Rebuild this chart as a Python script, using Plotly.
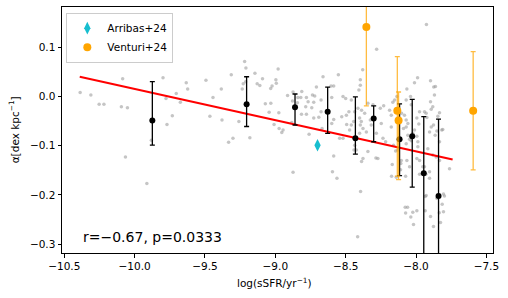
import plotly.graph_objects as go

# Gray sample points: log(sSFR), alpha
gray_x = [-10.387, -10.311, -10.252, -10.218, -10.094, -10.051, -10.085, -10.065, -9.913, -9.881,
          -9.798, -9.779, -9.777, -9.770, -9.732, -9.704, -9.675, -9.633, -9.623, -9.493,
          -9.465, -9.443, -9.384, -9.379, -9.332, -9.301, -9.313, -9.259, -9.235, -9.228,
          -9.218, -9.209, -9.181, -9.145, -9.091, -9.129, -9.110, -8.980, -8.996, -8.993,
          -9.023, -9.033, -9.071, -9.032, -9.044, -8.975, -9.009, -8.973, -8.954, -8.913,
          -8.874, -8.812, -8.878, -8.843, -8.840, -8.819, -8.779, -8.767, -8.784, -8.814,
          -8.779, -8.736, -8.720, -8.727, -8.741, -8.727, -8.691, -8.708, -8.661, -8.675,
          -8.675, -8.585, -8.604, -8.552, -8.599, -8.668, -8.760, -8.883, -8.585, -8.594,
          -8.562, -8.874, -8.394, -8.415, -8.387, -8.441, -8.424, -8.342, -8.285, -8.235,
          -8.282, -8.353, -8.543, -8.519, -8.472, -8.493, -8.528, -8.495, -8.599, -8.585,
          -8.945, -8.160, -8.145, -8.169, -8.174, -8.108, -8.110, -8.077, -8.060, -8.037,
          -8.023, -8.018, -7.994, -8.074, -8.074, -7.975, -7.975, -7.940, -7.930, -7.904,
          -7.935, -7.897, -7.935, -7.876, -7.805, -7.814, -7.798, -7.826, -7.852, -7.835,
          -7.762, -7.881, -7.857, -7.864, -7.833, -7.817, -7.892, -7.876, -7.897, -8.058,
          -8.046, -8.023, -7.987, -7.987, -8.070, -8.379, -8.396, -8.396, -8.406, -8.280,
          -7.926, -7.989, -7.897, -7.874, -8.065, -8.039, -8.136, -8.519, -8.500, -8.460,
          -8.254, -8.230, -8.070, -8.034, -7.975, -7.940, -7.892, -7.833, -7.845, -8.152,
          -8.413, -8.387, -8.477, -8.436, -8.443, -8.401, -8.389, -8.396, -8.377, -8.401,
          -8.365, -8.342, -8.306, -8.318, -8.325, -8.247, -8.216, -8.176, -8.165, -8.188,
          -8.176, -8.129, -8.140, -8.103, -8.082, -8.070, -8.058, -8.089, -8.011, -7.928,
          -7.923, -7.881, -7.862, -7.869, -7.994, -7.980, -8.011, -7.994, -8.034, -8.070,
          -8.065, -8.046, -8.105, -7.904, -7.852, -7.810, -7.994, -7.952, -7.916, -7.833,
          -7.904, -7.805, -7.928, -8.271, -8.377, -8.436, -8.460, -9.211]
gray_y = [0.008, 0.003, -0.016, -0.016, -0.021, -0.023, 0.036, -0.123, -0.177, -0.089,
          0.038, 0.093, -0.004, -0.057, -0.039, 0.006, -0.012, 0.028, 0.015, 0.033,
          -0.040, -0.002, 0.015, -0.048, -0.093, -0.085, 0.044, -0.051, 0.015, 0.026,
          0.071, 0.058, -0.084, 0.047, 0.036, 0.026, 0.022, 0.056, 0.034, 0.027,
          0.021, 0.016, -0.015, -0.014, -0.032, -0.033, -0.057, -0.065, -0.073, 0.002,
          0.009, 0.010, -0.009, -0.013, -0.002, -0.002, -0.002, -0.011, -0.021, -0.036,
          -0.036, 0.003, 0.001, -0.012, -0.023, -0.044, -0.042, 0.019, 0.040, -0.007,
          -0.031, 0.021, 0.021, 0.044, -0.002, -0.065, -0.077, -0.053, -0.121, -0.153,
          -0.166, -0.154, -0.193, -0.285, -0.132, -0.109, -0.109, -0.112, -0.125, -0.085,
          -0.075, -0.072, -0.085, -0.085, -0.068, -0.057, -0.041, -0.038, -0.055, -0.047,
          -0.068, -0.099, -0.111, -0.138, -0.162, -0.136, -0.149, -0.225, -0.225, -0.245,
          -0.235, -0.260, -0.232, -0.237, -0.162, -0.158, -0.130, -0.143, -0.158, -0.166,
          -0.203, -0.244, -0.232, -0.264, -0.234, -0.219, -0.202, -0.256, -0.207, -0.236,
          -0.147, -0.119, -0.123, -0.079, -0.092, -0.068, -0.062, -0.058, -0.011, -0.079,
          -0.087, -0.075, -0.092, -0.102, -0.062, 0.054, 0.034, 0.023, 0.013, 0.096,
          0.146, 0.038, 0.032, 0.019, 0.015, 0.000, 0.000, 0.000, -0.004, -0.007,
          -0.024, -0.019, -0.007, -0.017, -0.031, -0.031, -0.026, -0.033, -0.040, -0.007,
          -0.024, -0.028, -0.031, -0.031, -0.051, -0.044, -0.051, -0.058, -0.065, -0.075,
          -0.034, -0.014, -0.017, -0.058, -0.048, -0.055, -0.092, -0.062, -0.012, -0.028,
          -0.038, -0.109, -0.164, -0.034, -0.038, -0.048, -0.055, -0.065, 0.028, -0.034,
          -0.043, -0.021, 0.020, 0.003, -0.044, -0.056, -0.068, -0.081, -0.090, -0.096,
          -0.130, -0.143, -0.130, -0.072, -0.070, -0.067, -0.126, -0.143, -0.106, -0.130,
          -0.153, -0.198, -0.201, -0.126, -0.126, -0.099, -0.058, 0.030]

# Binned medians with asymmetric errors
bin_x = [-9.874, -9.204, -8.860, -8.628, -8.431, -8.301, -8.117, -8.027, -7.945, -7.840]
bin_y = [-0.049, -0.016, -0.022, -0.031, -0.085, -0.045, -0.087, -0.081, -0.156, -0.202]
bin_err_plus = [0.079, 0.056, 0.027, 0.050, 0.084, 0.026, 0.072, 0.075, 0.115, 0.156]
bin_err_minus = [0.050, 0.045, 0.036, 0.044, 0.032, 0.047, 0.074, 0.103, 0.200, 0.156]

# Linear fit line endpoints
fit_x = [-10.39, -7.74]
fit_y = [0.040, -0.128]

# Literature points
arribas_x = [-8.70]
arribas_y = [-0.099]

venturi_x = [-8.353, -8.133, -8.124, -7.594]
venturi_y = [0.141, -0.029, -0.049, -0.029]
venturi_err_plus = [0.160, 0.110, 0.058, 0.120]
venturi_err_minus = [0.160, 0.133, 0.120, 0.120]

annot_text = "r=\u22120.67, p=0.0333"

FONT = "DejaVu Sans"

fig = go.Figure()

fig.add_trace(go.Scatter(
    x=gray_x, y=gray_y, mode="markers", showlegend=False,
    marker=dict(size=3.5, color="rgba(150,150,150,0.55)", line=dict(width=0)),
))

fig.add_trace(go.Scatter(
    x=fit_x, y=fit_y, mode="lines", showlegend=False,
    line=dict(color="red", width=2),
))

fig.add_trace(go.Scatter(
    x=bin_x, y=bin_y, mode="markers", showlegend=False,
    marker=dict(size=6, color="black"),
    error_y=dict(type="data", symmetric=False, array=bin_err_plus, arrayminus=bin_err_minus,
                 color="black", thickness=1.3, width=2.5),
))

fig.add_trace(go.Scatter(
    x=arribas_x, y=arribas_y, mode="markers", name="Arribas+24",
    marker=dict(size=9, symbol="diamond-tall", color="#17BECF", line=dict(width=0)),
))

fig.add_trace(go.Scatter(
    x=venturi_x, y=venturi_y, mode="markers", name="Venturi+24",
    marker=dict(size=8, color="orange"),
    error_y=dict(type="data", symmetric=False, array=venturi_err_plus, arrayminus=venturi_err_minus,
                 color="rgba(255,165,0,0.75)", thickness=1.3, width=2.5),
))

fig.add_annotation(
    x=0.044, y=0.066, xref="paper", yref="paper", xanchor="left", yanchor="middle",
    text=annot_text, showarrow=False, font=dict(family=FONT, size=14, color="black"),
)
fig.add_annotation(
    x=0.494, y=-0.118, xref="paper", yref="paper", xanchor="center", yanchor="middle",
    text="log(sSFR/yr<sup>\u22121</sup>)", showarrow=False,
    font=dict(family=FONT, size=10.5, color="black"),
)
fig.add_annotation(
    x=-0.113, y=0.5, xref="paper", yref="paper", xanchor="center", yanchor="middle",
    text="\u03b1[dex kpc<sup>\u22121</sup>]", textangle=-90, showarrow=False,
    font=dict(family=FONT, size=10.5, color="black"),
)

axis_common = dict(
    showline=True, linecolor="black", linewidth=1, mirror=True,
    ticks="outside", ticklen=3.5, tickwidth=0.8, tickcolor="black",
    showgrid=False, zeroline=False, tickformat=".1f",
    tickfont=dict(family=FONT, size=10.5, color="black"),
)

fig.update_layout(
    width=508, height=298,
    margin=dict(l=62, r=15, t=7, b=45),
    paper_bgcolor="white", plot_bgcolor="white",
    font=dict(family=FONT, color="black"),
    hovermode=False,
    xaxis=dict(range=[-10.516, -7.453], tickvals=[-10.5, -10.0, -9.5, -9.0, -8.5, -8.0, -7.5], **axis_common),
    yaxis=dict(range=[-0.318, 0.1817], tickvals=[-0.3, -0.2, -0.1, 0.0, 0.1], **axis_common),
    legend=dict(x=0.01, y=0.977, xanchor="left", yanchor="top",
                bgcolor="rgba(255,255,255,0.85)", bordercolor="#cccccc", borderwidth=1,
                font=dict(family=FONT, size=10.5, color="black"), tracegroupgap=0,
                itemwidth=30),
)

fig.write_html("out.html", config={"displayModeBar": False},
               post_script="document.body.style.margin='0';document.body.style.overflow='hidden';")
